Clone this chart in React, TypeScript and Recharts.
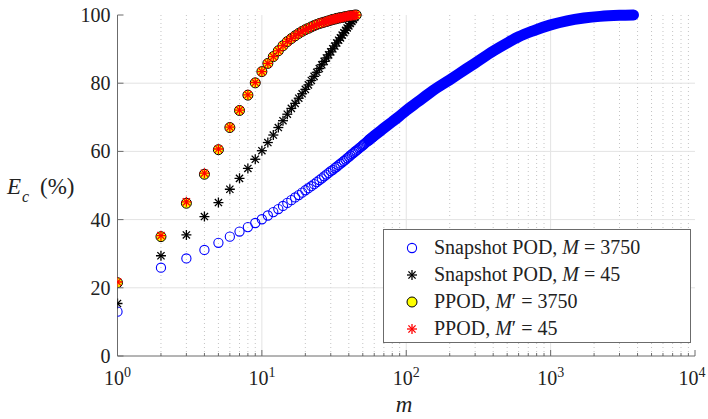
import React from "react";
import { ComposedChart, XAxis, YAxis, Scatter, Line, ReferenceLine, Legend } from "recharts";

const FONT = '"Liberation Serif", "Times New Roman", Times, serif';
const AXIS = "#6b6b6b";
const GRID = "#e3e3e3";
const MINOR = "#c4c4c4";

// modes m (x axis, log scale)
const modesShort = [
  1, 2, 3, 4, 5, 6, 7, 8, 9, 10, 11, 12, 13, 14, 15, 16, 17, 18, 19, 20, 21, 22, 23,
  24, 25, 26, 27, 28, 29, 30, 31, 32, 33, 34, 35, 36, 37, 38, 39, 40, 41, 42, 43, 44, 45,
];
const modesBlue = [
  1, 2, 3, 4, 5, 6, 7, 8, 9, 10, 11, 12, 13, 14, 15, 16, 17, 18, 19, 20, 21, 22, 23,
  24, 25, 26, 27, 28, 29, 30, 31, 32, 33, 34, 35, 36, 37, 38, 39, 40, 41, 42, 43, 44, 45,
  46, 47, 48, 49, 50, 51, 52, 53, 54, 55, 56, 57, 58, 59, 60,
];

// Snapshot POD, M = 3750 (sparse start)
const snapshot3750 = [
  13.0, 25.9, 28.6, 31.1, 33.2, 35.0, 36.5, 37.8, 39.0, 40.1, 41.2, 42.2, 43.1, 44.0,
  44.9, 45.7, 46.5, 47.2, 47.9, 48.6, 49.2, 49.8, 50.4, 51.0, 51.6, 52.1, 52.7, 53.2,
  53.7, 54.2, 54.6, 55.1, 55.5, 56.0, 56.4, 56.8, 57.2, 57.6, 58.0, 58.4, 58.8, 59.2,
  59.5, 59.9, 60.2, 60.5, 60.9, 61.2, 61.5, 61.8, 62.1, 62.4, 62.7, 63.0, 63.3, 63.5,
  63.8, 64.1, 64.3, 64.6,
];
// Snapshot POD, M = 3750 (dense part, markers merge into a band)
const bandModes = [55, 60, 70, 80, 90, 100, 120, 150, 200, 260, 300, 400, 500, 600, 750, 1000, 1300, 1700, 2200, 3000, 3750];
const bandValues = [63.3, 64.6, 66.8, 68.7, 70.4, 72.0, 74.5, 77.6, 81.0, 84.2, 85.9, 89.4, 91.8, 93.6, 95.3, 97.1, 98.3, 99.1, 99.6, 99.9, 100];

// Snapshot POD, M = 45
const snapshot45 = [
  15.4, 29.4, 35.5, 40.9, 45.0, 48.9, 52.1, 55.0, 57.7, 60.2, 62.6, 64.8, 67.0, 69.0,
  70.9, 72.6, 74.1, 75.6, 76.9, 78.2, 79.5, 80.8, 82.0, 83.2, 84.3, 85.4, 86.4, 87.4,
  88.3, 89.2, 90.1, 90.9, 91.8, 92.6, 93.3, 94.1, 94.8, 95.5, 96.2, 96.8, 97.5, 98.1,
  98.7, 99.3, 100,
];
// PPOD, M' = 3750
const ppod3750 = [
  21.5, 35.0, 44.8, 53.3, 60.5, 67.0, 72.0, 76.5, 80.1, 83.4, 85.8, 87.8, 89.5, 91.0,
  92.2, 93.1, 93.9, 94.6, 95.2, 95.7, 96.1, 96.5, 96.9, 97.2, 97.5, 97.7, 97.9, 98.1,
  98.3, 98.5, 98.7, 98.8, 99.0, 99.1, 99.2, 99.3, 99.4, 99.5, 99.6, 99.7, 99.75, 99.8,
  99.9, 99.95, 100,
];
// PPOD, M' = 45
const ppod45 = [
  21.7, 35.3, 45.2, 53.6, 60.7, 67.1, 72.1, 76.6, 80.2, 83.4, 85.8, 87.8, 89.5, 91.0,
  92.2, 93.1, 93.9, 94.6, 95.2, 95.7, 96.1, 96.5, 96.9, 97.2, 97.5, 97.7, 97.9, 98.1,
  98.3, 98.5, 98.7, 98.8, 99.0, 99.1, 99.2, 99.3, 99.4, 99.5, 99.6, 99.7, 99.75, 99.8,
  99.9, 99.95, 100,
];

const xMajor = [1, 10, 100, 1000, 10000];
const xMinor = [
  2, 3, 4, 5, 6, 7, 8, 9, 20, 30, 40, 50, 60, 70, 80, 90, 200, 300, 400, 500, 600, 700,
  800, 900, 2000, 3000, 4000, 5000, 6000, 7000, 8000, 9000,
];
const yTicks = [0, 20, 40, 60, 80, 100];
const xTicks = [...xMajor, ...xMinor].sort((a, b) => a - b);

const pts = (ms: number[], vs: number[]) => ms.map((m, i) => ({ m, v: vs[i] }));

const OpenCircle = ({ cx, cy }: any) => (
  <circle cx={cx} cy={cy} r={4.6} fill="none" stroke="#0000ff" strokeWidth={1.1} />
);
const YellowDot = ({ cx, cy }: any) => (
  <circle cx={cx} cy={cy} r={5} fill="#ffff00" stroke="#000" strokeWidth={1} />
);
const Star = ({ cx, cy, color }: any) => {
  const r = 5;
  const d = 3.6;
  return (
    <g stroke={color} strokeWidth={1.3}>
      <line x1={cx - r} y1={cy} x2={cx + r} y2={cy} />
      <line x1={cx} y1={cy - r} x2={cx} y2={cy + r} />
      <line x1={cx - d} y1={cy - d} x2={cx + d} y2={cy + d} />
      <line x1={cx - d} y1={cy + d} x2={cx + d} y2={cy - d} />
    </g>
  );
};

const BottomTick = (p: any) => {
  const { x, y, payload } = p;
  const major = xMajor.includes(payload.value);
  // keep the last label inside the picture, as in the original
  const lx = Math.min(x, 692);
  return (
    <g>
      <line x1={x} y1={y} x2={x} y2={y - (major ? 6 : 3)} stroke={AXIS} />
      {major && (
        <text x={lx} y={y + 29} textAnchor="middle" fontFamily={FONT} fontSize={20} fill="#222">
          <tspan>10</tspan>
          <tspan dy={-8} fontSize={14}>{Math.round(Math.log10(payload.value))}</tspan>
        </text>
      )}
    </g>
  );
};
const TopTick = (p: any) => {
  const { x, y, payload } = p;
  const major = xMajor.includes(payload.value);
  return <line x1={x} y1={y} x2={x} y2={y + (major ? 6 : 3)} stroke={AXIS} />;
};
const LeftTick = (p: any) => {
  const { x, y, payload } = p;
  return (
    <g>
      <line x1={x} y1={y} x2={x + 6} y2={y} stroke={AXIS} />
      <text x={x - 7} y={y + 7} textAnchor="end" fontFamily={FONT} fontSize={20} fill="#222">
        {payload.value}
      </text>
    </g>
  );
};
const RightTick = (p: any) => {
  const { x, y } = p;
  return <line x1={x} y1={y} x2={x - 6} y2={y} stroke={AXIS} />;
};

const rows = [
  { key: "s3750", marker: <OpenCircle cx={10} cy={10} />, label: <>Snapshot POD, <i>M</i> = 3750</> },
  { key: "s45", marker: <Star cx={10} cy={10} color="#000" />, label: <>Snapshot POD, <i>M</i> = 45</> },
  { key: "p3750", marker: <YellowDot cx={10} cy={10} />, label: <>PPOD, <i>M</i>′ = 3750</> },
  { key: "p45", marker: <Star cx={10} cy={10} color="#ff0000" />, label: <>PPOD, <i>M</i>′ = 45</> },
];

const LegendBox = () => (
  <div
    style={{
      width: 308,
      height: 114,
      boxSizing: "border-box",
      border: `1px solid ${AXIS}`,
      background: "#fff",
      paddingTop: 4,
      fontFamily: FONT,
      fontSize: 20,
      color: "#222",
    }}
  >
    {rows.map((r) => (
      <div key={r.key} style={{ height: 27, display: "flex", alignItems: "center", whiteSpace: "nowrap" }}>
        <svg width={20} height={20} style={{ marginLeft: 18, marginRight: 12, flex: "none" }}>
          {r.marker}
        </svg>
        <span>{r.label}</span>
      </div>
    ))}
  </div>
);

export default function App() {
  return (
    <div style={{ position: "absolute", left: 0, top: 0, background: "#fff" }}>
      <ComposedChart width={708} height={419} margin={{ top: 15, right: 13, bottom: 0, left: 0 }}>
        <XAxis
          xAxisId="b"
          dataKey="m"
          type="number"
          scale="log"
          domain={[1, 10000]}
          allowDataOverflow
          ticks={xTicks}
          interval={0}
          height={63}
          tickSize={0}
          tickMargin={0}
          tickLine={false}
          axisLine={{ stroke: AXIS }}
          tick={<BottomTick />}
          label={{
            content: () => (
              <text x={404} y={412} textAnchor="middle" fontFamily={FONT} fontSize={23} fontStyle="italic" fill="#222">
                m
              </text>
            ),
          }}
        />
        <XAxis
          xAxisId="t"
          orientation="top"
          type="number"
          scale="log"
          domain={[1, 10000]}
          allowDataOverflow
          ticks={xTicks}
          interval={0}
          height={0}
          tickSize={0}
          tickMargin={0}
          tickLine={false}
          axisLine={{ stroke: AXIS }}
          tick={<TopTick />}
        />
        <YAxis
          yAxisId="l"
          dataKey="v"
          type="number"
          domain={[0, 100]}
          ticks={yTicks}
          interval={0}
          width={117.5}
          tickSize={0}
          tickMargin={0}
          tickLine={false}
          axisLine={{ stroke: AXIS }}
          tick={<LeftTick />}
          label={{
            content: () => (
              <g fontFamily={FONT} fill="#222">
                <text x={7} y={194} fontSize={23} fontStyle="italic">E</text>
                <text x={22} y={202} fontSize={16} fontStyle="italic">c</text>
                <text x={40} y={194} fontSize={23}>(%)</text>
              </g>
            ),
          }}
        />
        <YAxis
          yAxisId="r"
          orientation="right"
          type="number"
          domain={[0, 100]}
          ticks={yTicks}
          interval={0}
          width={0}
          tickSize={0}
          tickMargin={0}
          tickLine={false}
          axisLine={{ stroke: AXIS }}
          tick={<RightTick />}
        />

        {xMinor.map((v) => (
          <ReferenceLine key={`mn${v}`} x={v} xAxisId="b" yAxisId="l" stroke={MINOR} strokeDasharray="1 3" />
        ))}
        {[10, 100, 1000].map((v) => (
          <ReferenceLine key={`mj${v}`} x={v} xAxisId="b" yAxisId="l" stroke={GRID} />
        ))}
        {[20, 40, 60, 80].map((v) => (
          <ReferenceLine key={`h${v}`} y={v} xAxisId="b" yAxisId="l" stroke={GRID} />
        ))}

        <Line
          data={pts(bandModes, bandValues)}
          dataKey="v"
          xAxisId="b"
          yAxisId="l"
          type="monotone"
          stroke="#0000ff"
          strokeWidth={11}
          strokeLinecap="round"
          dot={false}
          activeDot={false}
          legendType="none"
          isAnimationActive={false}
        />
        <Scatter
          data={pts(modesBlue, snapshot3750)}
          dataKey="v"
          xAxisId="b"
          yAxisId="l"
          shape={(p: any) => <OpenCircle cx={p.cx} cy={p.cy} />}
          isAnimationActive={false}
        />
        <Scatter
          data={pts(modesShort, snapshot45)}
          dataKey="v"
          xAxisId="b"
          yAxisId="l"
          shape={(p: any) => <Star cx={p.cx} cy={p.cy} color="#000" />}
          isAnimationActive={false}
        />
        <Scatter
          data={pts(modesShort, ppod3750)}
          dataKey="v"
          xAxisId="b"
          yAxisId="l"
          shape={(p: any) => <YellowDot cx={p.cx} cy={p.cy} />}
          isAnimationActive={false}
        />
        <Scatter
          data={pts(modesShort, ppod45)}
          dataKey="v"
          xAxisId="b"
          yAxisId="l"
          shape={(p: any) => <Star cx={p.cx} cy={p.cy} color="#ff0000" />}
          isAnimationActive={false}
        />

        <Legend
          layout="vertical"
          align="center"
          verticalAlign="middle"
          content={() => <LegendBox />}
          wrapperStyle={{ left: 383, top: 229, width: 308, height: 114 }}
        />
      </ComposedChart>
    </div>
  );
}
